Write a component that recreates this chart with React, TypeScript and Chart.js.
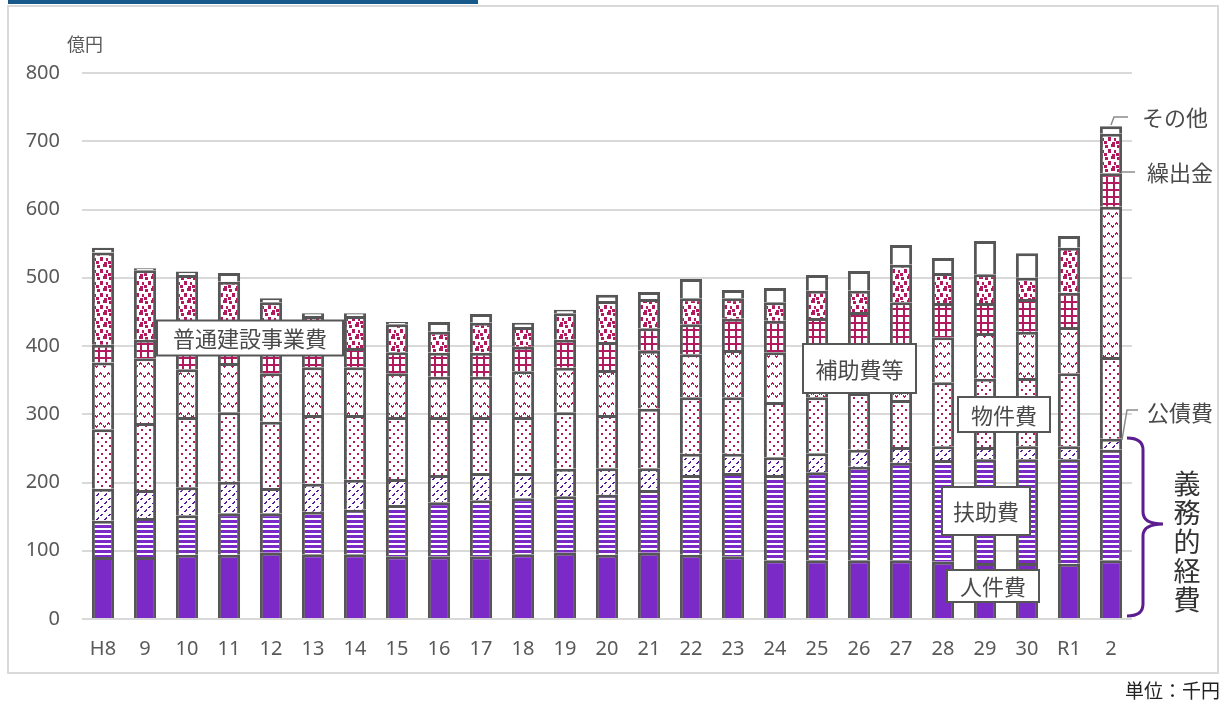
import React, { useEffect, useRef } from 'react';
import { Chart, registerables } from 'chart.js';

Chart.register(...registerables);

// ---- Data (億円) ----
const categories = ['H8', '9', '10', '11', '12', '13', '14', '15', '16', '17', '18', '19', '20', '21', '22', '23', '24', '25', '26', '27', '28', '29', '30', 'R1', '2'];
const personnel = [91, 91, 94, 94, 97, 95, 95, 92, 92, 92, 95, 97, 94, 97, 94, 92, 86, 86, 86, 86, 84, 82, 82, 81, 86]; // 人件費
const assistance = [53, 57, 58, 61, 58, 62, 65, 75, 79, 82, 82, 83, 88, 92, 117, 122, 125, 129, 137, 143, 149, 152, 152, 153, 162]; // 扶助費
const debt = [47, 41, 41, 46, 37, 41, 44, 38, 40, 40, 37, 40, 39, 32, 31, 28, 26, 28, 25, 23, 20, 18, 19, 19, 16]; // 公債費
const goods = [87, 98, 103, 102, 97, 101, 95, 91, 85, 82, 82, 83, 78, 87, 83, 83, 81, 82, 83, 69, 94, 100, 100, 107, 120]; // 物件費
const subsidies = [98, 95, 70, 72, 71, 70, 70, 64, 59, 59, 67, 65, 66, 85, 63, 69, 73, 54, 48, 80, 66, 67, 68, 68, 220]; // 補助費等
const transfers = [26, 27, 25, 19, 31, 22, 28, 31, 35, 35, 36, 41, 41, 33, 44, 46, 46, 62, 71, 63, 50, 44, 48, 50, 49]; // 繰出金
const construction = [135, 102, 113, 100, 73, 53, 47, 41, 31, 44, 29, 39, 60, 43, 38, 30, 27, 40, 31, 55, 44, 42, 31, 66, 58]; // 普通建設事業費
const others = [7, 3, 5, 13, 6, 4, 4, 3, 14, 13, 6, 5, 9, 10, 28, 12, 21, 23, 29, 29, 22, 49, 36, 17, 11]; // その他
const yTicks = [0, 100, 200, 300, 400, 500, 600, 700, 800];

const PURPLE = '#7B2AC8';
const DARK_PURPLE = '#56199A';
const PINK = '#B3195E';
const BORDER = '#565656';
const TEXT = '#595959';
const LATIN = '"Noto Sans", "Noto Sans CJK JP", sans-serif';
const CJK = '"Noto Sans CJK JP", "Noto Sans", sans-serif';

function makePattern(w: number, h: number, draw: (c: CanvasRenderingContext2D) => void) {
  const cv = document.createElement('canvas');
  cv.width = w;
  cv.height = h;
  const c = cv.getContext('2d') as CanvasRenderingContext2D;
  c.fillStyle = '#ffffff';
  c.fillRect(0, 0, w, h);
  draw(c);
  const ctx2 = document.createElement('canvas').getContext('2d') as CanvasRenderingContext2D;
  return ctx2.createPattern(cv, 'repeat') as CanvasPattern;
}

const annotPlugin = {
  id: 'annot',
  afterDraw(chart: any) {
    const ctx: CanvasRenderingContext2D = chart.ctx;
    ctx.save();
    ctx.textAlign = 'center';
    ctx.textBaseline = 'middle';

    ctx.fillStyle = TEXT;
    ctx.font = `18px ${CJK}`;
    ctx.fillText('億円', 85, 44);

    const box = (text: string, cx: number, cy: number, w: number, h: number) => {
      ctx.fillStyle = '#ffffff';
      ctx.fillRect(cx - w / 2, cy - h / 2, w, h);
      ctx.strokeStyle = BORDER;
      ctx.lineWidth = 2;
      ctx.strokeRect(cx - w / 2, cy - h / 2, w, h);
      ctx.fillStyle = '#4a4a4a';
      ctx.font = `22px ${CJK}`;
      ctx.fillText(text, cx, cy + 1);
    };
    box('普通建設事業費', 250, 338, 186, 35);
    box('補助費等', 859.5, 368.5, 113, 49);
    box('物件費', 1004, 414.5, 92, 35);
    box('扶助費', 986, 511, 88, 48);
    box('人件費', 993, 586, 92, 32);

    ctx.strokeStyle = '#8c8c8c';
    ctx.lineWidth = 1.5;
    ctx.beginPath();
    ctx.moveTo(1111, 125);
    ctx.lineTo(1114, 117);
    ctx.lineTo(1128, 117);
    ctx.stroke();
    ctx.beginPath();
    ctx.moveTo(1121, 172);
    ctx.lineTo(1135, 172);
    ctx.stroke();
    ctx.beginPath();
    ctx.moveTo(1138, 410);
    ctx.lineTo(1127, 410);
    ctx.lineTo(1122, 440);
    ctx.stroke();

    ctx.fillStyle = '#4a4a4a';
    ctx.font = `22px ${CJK}`;
    ctx.fillText('その他', 1175, 118);
    ctx.fillText('繰出金', 1180, 173);
    ctx.fillText('公債費', 1180, 413);

    ctx.strokeStyle = '#5B1D8F';
    ctx.lineWidth = 3;
    ctx.beginPath();
    ctx.moveTo(1127, 438);
    ctx.quadraticCurveTo(1143, 438, 1143, 450);
    ctx.lineTo(1143, 512);
    ctx.quadraticCurveTo(1143, 524, 1163, 524);
    ctx.quadraticCurveTo(1143, 524, 1143, 536);
    ctx.lineTo(1143, 604);
    ctx.quadraticCurveTo(1143, 616, 1127, 616);
    ctx.stroke();

    ctx.fillStyle = '#333333';
    ctx.font = `27px ${CJK}`;
    const vert = ['義', '務', '的', '経', '費'];
    vert.forEach((ch, i) => ctx.fillText(ch, 1187, 484 + i * 29));
    ctx.restore();
  },
};

export default function App() {
  const ref = useRef<HTMLCanvasElement | null>(null);

  useEffect(() => {
    if (!ref.current) return;
    const pSolid = PURPLE;
    const pStripes = makePattern(4, 5, (c) => {
      c.fillStyle = PURPLE;
      c.fillRect(0, 0, 4, 3);
    });
    const pDiag = makePattern(8, 8, (c) => {
      c.fillStyle = DARK_PURPLE;
      c.fillRect(0, 7, 1, 1);
      c.fillRect(1, 6, 1, 1);
      c.fillRect(2, 5, 1, 1);
      c.fillRect(1, 7, 1, 1);
      c.fillRect(2, 6, 1, 1);
      c.fillRect(4, 3, 1, 1);
      c.fillRect(5, 2, 1, 1);
      c.fillRect(5, 3, 1, 1);
      c.fillRect(6, 2, 1, 1);
    });
    const pDots = makePattern(8, 8, (c) => {
      c.fillStyle = PINK;
      c.fillRect(1, 1, 2, 2);
      c.fillRect(5, 5, 2, 2);
    });
    const pZig = makePattern(8, 10, (c) => {
      c.fillStyle = PINK;
      const ys = [6, 5, 4, 3, 2, 3, 4, 5];
      ys.forEach((y, x) => {
        if (x === 2 || x === 6) return;
        c.fillRect(x, y, 1, 2);
      });
    });
    const pGrid = makePattern(7, 7, (c) => {
      c.fillStyle = PINK;
      c.fillRect(0, 0, 7, 7);
      c.fillStyle = '#ffffff';
      c.fillRect(2, 2, 5, 5);
    });
    const pConfetti = makePattern(12, 12, (c) => {
      c.fillStyle = PINK;
      c.fillRect(1, 1, 3, 3);
      c.fillRect(7, 0, 4, 3);
      c.fillRect(4, 5, 3, 4);
      c.fillRect(10, 6, 2, 3);
      c.fillRect(0, 9, 3, 3);
      c.fillRect(8, 10, 3, 2);
    });

    const mk = (label: string, data: number[], bg: any) => ({
      label,
      data,
      backgroundColor: bg,
      borderColor: BORDER,
      borderWidth: 3,
      barPercentage: 0.53,
      categoryPercentage: 1,
    });

    const chart = new Chart(ref.current, {
      type: 'bar',
      data: {
        labels: categories,
        datasets: [
          mk('人件費', personnel, pSolid),
          mk('扶助費', assistance, pStripes),
          mk('公債費', debt, pDiag),
          mk('物件費', goods, pDots),
          mk('補助費等', subsidies, pZig),
          mk('繰出金', transfers, pGrid),
          mk('普通建設事業費', construction, pConfetti),
          mk('その他', others, '#ffffff'),
        ],
      },
      options: {
        responsive: false,
        animation: false,
        events: [],
        layout: { padding: { left: 20, right: 93, top: 73, bottom: 0 } },
        plugins: { legend: { display: false }, tooltip: { enabled: false } },
        scales: {
          x: {
            stacked: true,
            grid: { display: false, drawTicks: false },
            border: { display: false },
            ticks: { color: TEXT, font: { family: LATIN, size: 20 }, padding: 18, maxRotation: 0, autoSkip: false },
            afterFit: (s: any) => {
              s.height = 87;
            },
          },
          y: {
            stacked: true,
            min: 0,
            max: 800,
            afterBuildTicks: (s: any) => {
              s.ticks = yTicks.map((v) => ({ value: v }));
            },
            ticks: { color: TEXT, font: { family: LATIN, size: 20 }, padding: 22 },
            grid: { color: '#d9d9d9', lineWidth: 2, drawTicks: false },
            border: { display: false },
            afterFit: (s: any) => {
              s.width = 62;
            },
          },
        },
      } as any,
      plugins: [annotPlugin],
    });
    return () => chart.destroy();
  }, []);

  return (
    <div style={{ position: 'fixed', left: 0, top: 0, width: 1225, height: 706, background: '#ffffff' }}>
      <div style={{ position: 'absolute', left: 8, top: 0, width: 470, height: 4, background: '#17598A' }} />
      <div
        style={{
          position: 'absolute',
          left: 7,
          top: 5,
          width: 1212,
          height: 669,
          border: '2px solid #d9d9d9',
          boxSizing: 'border-box',
        }}
      />
      <canvas ref={ref} width={1225} height={706} style={{ position: 'absolute', left: 0, top: 0 }} />
      <div
        style={{
          position: 'absolute',
          right: 5,
          top: 678,
          fontFamily: CJK,
          fontSize: 19,
          color: '#222',
          lineHeight: '24px',
        }}
      >
        単位：千円
      </div>
    </div>
  );
}
